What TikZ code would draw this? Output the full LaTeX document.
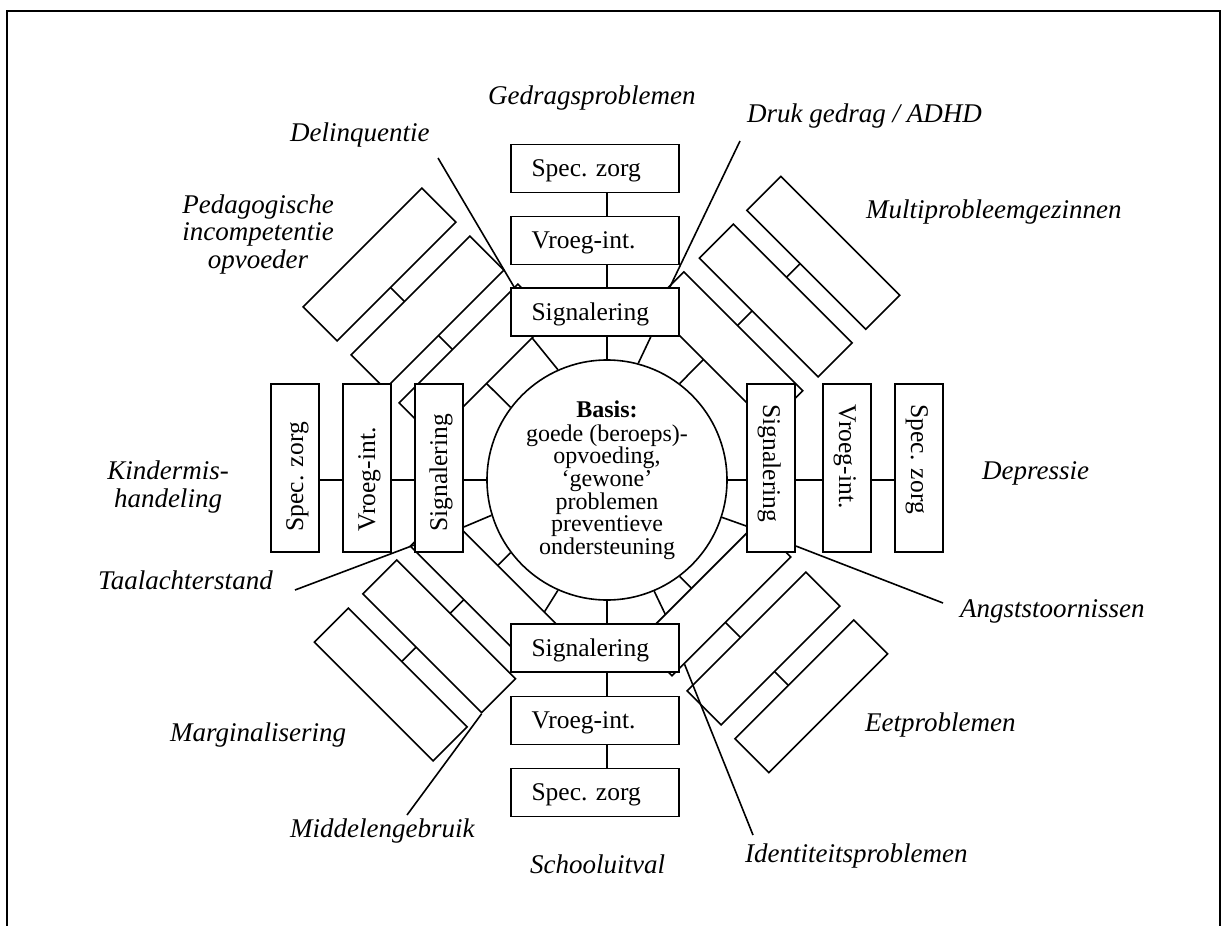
\documentclass[tikz,border=0pt]{standalone}
\usepackage{fontspec}
\setmainfont{Liberation Serif}
\usetikzlibrary{calc,backgrounds}
\newcommand\bxfont{\fontsize{25.5pt}{30pt}\selectfont}
\newcommand\lbfont{\fontsize{27pt}{27.5pt}\selectfont\itshape}
\newcommand\crfont{\fontsize{24pt}{22.6pt}\selectfont}
\begin{document}
\begin{tikzpicture}[x=1pt,y=-1pt,
  conn/.style={line width=1.6pt},
  box/.style={draw, fill=white, line width=1.6pt, minimum width=168pt, minimum height=48pt,
    inner xsep=20.5pt, inner ysep=0pt, text width=127pt, align=left,
    text height=20pt, text depth=4pt, font=\bxfont},
  drect/.style={draw, fill=white, line width=1.6pt, minimum width=168pt, minimum height=48pt, inner sep=0pt},
  lab/.style={font=\lbfont, inner sep=0pt}]
\useasboundingbox (0,0) rectangle (1229,926);
\draw[line width=2pt] (7,926) -- (7,11) -- (1219.5,11) -- (1219.5,926);

% diagonal stacks
\node[drect, rotate=45] (nwO) at (379.5,264.5) {};
\node[drect, rotate=45] (nwM) at (427.5,312.5) {};
\node[drect, rotate=45] (nwI) at (475.5,360.5) {};
\node[drect, rotate=-45] (neO) at (823.3,252.8) {};
\node[drect, rotate=-45] (neM) at (775.8,300.5) {};
\node[drect, rotate=-45] (neI) at (726.3,348.3) {};
\node[drect, rotate=-45] (swI) at (486.8,588.6) {};
\node[drect, rotate=-45] (swM) at (439.2,636.3) {};
\node[drect, rotate=-45] (swO) at (390.8,684.5) {};
\node[drect, rotate=45] (seI) at (714.4,599.4) {};
\node[drect, rotate=45] (seM) at (763.5,648.5) {};
\node[drect, rotate=45] (seO) at (811.3,696.3) {};

% axis stacks
\node[box] (specT) at (595,168.5) {Spec.\ zorg};
\node[box] (vroT) at (595,240.5) {Vroeg-int.};
\node[box] (sigT) at (595,312) {Signalering};
\node[box] (sigB) at (595,648) {Signalering};
\node[box] (vroB) at (595,720.5) {Vroeg-int.};
\node[box] (specB) at (595,792.5) {Spec.\ zorg};
\node[box, rotate=90] (sigL) at (439,468) {Signalering};
\node[box, rotate=90] (vroL) at (367,468) {Vroeg-int.};
\node[box, rotate=90] (specL) at (295,468) {Spec.\ zorg};
\node[box, rotate=-90] (sigR) at (771,468) {Signalering};
\node[box, rotate=-90] (vroR) at (847,468) {Vroeg-int.};
\node[box, rotate=-90] (specR) at (919,468) {Spec.\ zorg};

% centre
\node[draw, fill=white, circle, line width=1.6pt, minimum size=240pt, inner sep=0pt,
  align=center, font=\crfont] (C) at (607,480)
  {\textbf{Basis:}\\[1.4pt] goede (beroeps)-\\ opvoeding,\\ ‘gewone’\\ problemen\\ preventieve\\ ondersteuning};

\begin{scope}[on background layer]
\begin{scope}[line width=1.6pt]
% spokes to the centre
\draw (C |- sigT.south) -- (C.north);
\draw ($(sigT.south west)+(21,0)$) -- (C.114.4);
\draw ($(sigT.south east)+(-29,0)$) -- (C.75.2);
\draw (C |- sigB.north) -- (C.south);
\draw (C.246.2) -- ++(-15,24);
\draw (C.293.2) -- ++(12,25);
\draw (sigL.south |- C) -- (C.west);
\draw ($(sigL.south)+(0,59)$) -- (C.197.4);
\draw (sigR.south |- C) -- (C.east);
\draw ($(sigR.south)+(0,58)$) -- (C.342.6);
\draw ([shift={(-6,6)}]nwI.center) -- (C.143);
\draw ([shift={(-6,-6)}]neI.center) -- (C.53);
\draw ([shift={(-6,-6)}]swI.center) -- (C.217);
\draw ([shift={(-6,6)}]seI.center) -- (C.307.3);
% links within the stacks
\draw (C |- sigT.north) -- (C |- vroT.south);
\draw (C |- vroT.north) -- (C |- specT.south);
\draw (C |- sigB.south) -- (C |- vroB.north);
\draw (C |- vroB.south) -- (C |- specB.north);
\draw (sigL.north |- C) -- (vroL.south |- C);
\draw (vroL.north |- C) -- (specL.south |- C);
\draw (sigR.north |- C) -- (vroR.south |- C);
\draw (vroR.north |- C) -- (specR.south |- C);
\draw ([shift={(-6,6)}]nwI.center) -- ([shift={(-6,6)}]nwO.center);
\draw ([shift={(-6,-6)}]neI.center) -- ([shift={(-6,-6)}]neO.center);
\draw ([shift={(-6,-6)}]swI.center) -- ([shift={(-6,-6)}]swO.center);
\draw ([shift={(-6,6)}]seI.center) -- ([shift={(-6,6)}]seO.center);
\end{scope}
\end{scope}

% label lines
\coordinate (delS) at (438,158);
\coordinate (drukS) at (740,141);
\coordinate (angS) at (943,603);
\coordinate (taalS) at (295,590);
\coordinate (midS) at (407,815);
\coordinate (idS) at (753,835);
\draw[conn] (delS) -- ($(sigT.north west)+(4,0)$);
\draw[conn] (drukS) -- ($(sigT.north east)+(-10,0)$);
\draw[conn] (angS) -- ($(sigR.north)+(0,78)$);
\draw[conn] (taalS) -- ($(sigL.north)+(0,77)$);
\draw[conn] (midS) -- (swM.south east);
\draw[conn] ($(seI.south)!0.79!(seI.south west)$) -- (idS);

% labels
\node[lab, anchor=base west] (lGedrag) at (488,104) {Gedragsproblemen};
\node[lab, anchor=base west] (lDel) at (290,141) {Delinquentie};
\node[lab, anchor=base west] (lDruk) at (747,122) {Druk gedrag / ADHD};
\node[lab, align=center] (lPed) at (258,234.3) {Pedagogische\\ incompetentie\\ opvoeder};
\node[lab, anchor=base west] (lMulti) at (866,218) {Multiprobleemgezinnen};
\node[lab, align=center] (lKind) at (168,487) {Kindermis-\\ handeling};
\node[lab, anchor=base west] (lDep) at (982,479) {Depressie};
\node[lab, anchor=base west] (lTaal) at (98,589) {Taalachterstand};
\node[lab, anchor=base west] (lAngst) at (960,617) {Angststoornissen};
\node[lab, anchor=base west] (lMarg) at (170,741) {Marginalisering};
\node[lab, anchor=base west] (lEet) at (865,731) {Eetproblemen};
\node[lab, anchor=base west] (lMid) at (290,837) {Middelengebruik};
\node[lab, anchor=base west] (lId) at (745,862) {Identiteitsproblemen};
\node[lab, anchor=base west] (lSchool) at (530,873) {Schooluitval};
\end{tikzpicture}
\end{document}
